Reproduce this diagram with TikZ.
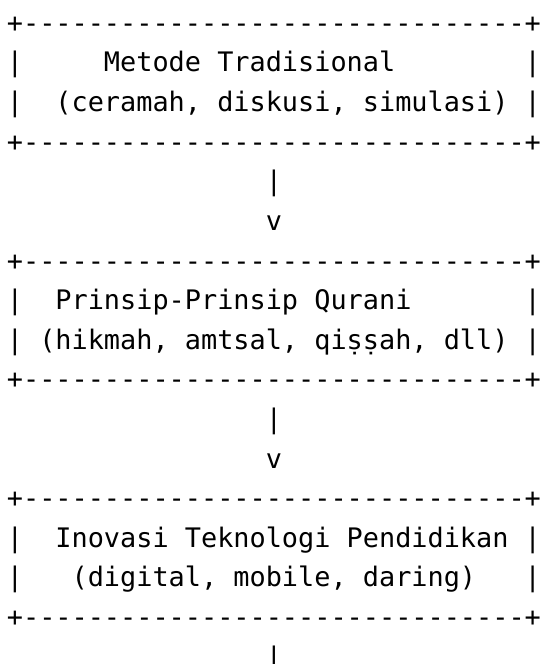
\documentclass[tikz,border=0pt]{standalone}
\usepackage{fontspec}
\newfontfamily\asciifont[Ligatures=TeXOff]{DejaVu Sans Mono}
\begin{document}
\begin{tikzpicture}[x=8.09pt, y=-19.8pt]
        \tikzstyle{every node}=[font=\asciifont\fontsize{13.44pt}{19.8pt}\selectfont, anchor=base west, inner sep=0pt, outer sep=0pt]
        \useasboundingbox (-3.45pt,16.2pt) rectangle (266.55pt,-315.8pt);
        % frames of the three boxes
        \foreach \r/\n in {0/trad, 6/qurani, 12/inov}{
            \node (\n top) at (0,\r) {+-------------------------------+};
            \node (\n bot) at (0,\r+3) {+-------------------------------+};
            \node (\n l1) at (0,\r+1) {|};
            \node (\n r1) at (32,\r+1) {|};
            \node (\n l2) at (0,\r+2) {|};
            \node (\n r2) at (32,\r+2) {|};
        }
        % texts
        \node (tradtitle) at (6,1) {Metode Tradisional};
        \node (tradsub) at (3,2) {(ceramah, diskusi, simulasi)};
        \node (quranititle) at (3,7) {Prinsip-Prinsip Qurani};
        \node (qurani sub) at (2,8) {(hikmah, amtsal, qiṣṣah, dll)};
        \node (inovtitle) at (3,13) {Inovasi Teknologi Pendidikan};
        \node (inovsub) at (4,14) {(digital, mobile, daring)};
        % arrows between the boxes
        \foreach \r/\n in {4/a, 10/b}{
            \node (shaft\n) at (16,\r) {|};
            \node (head\n) at (16,\r+1) {v};
        }
        \node (shaftc) at (16,16) {|};
\end{tikzpicture}
\end{document}
